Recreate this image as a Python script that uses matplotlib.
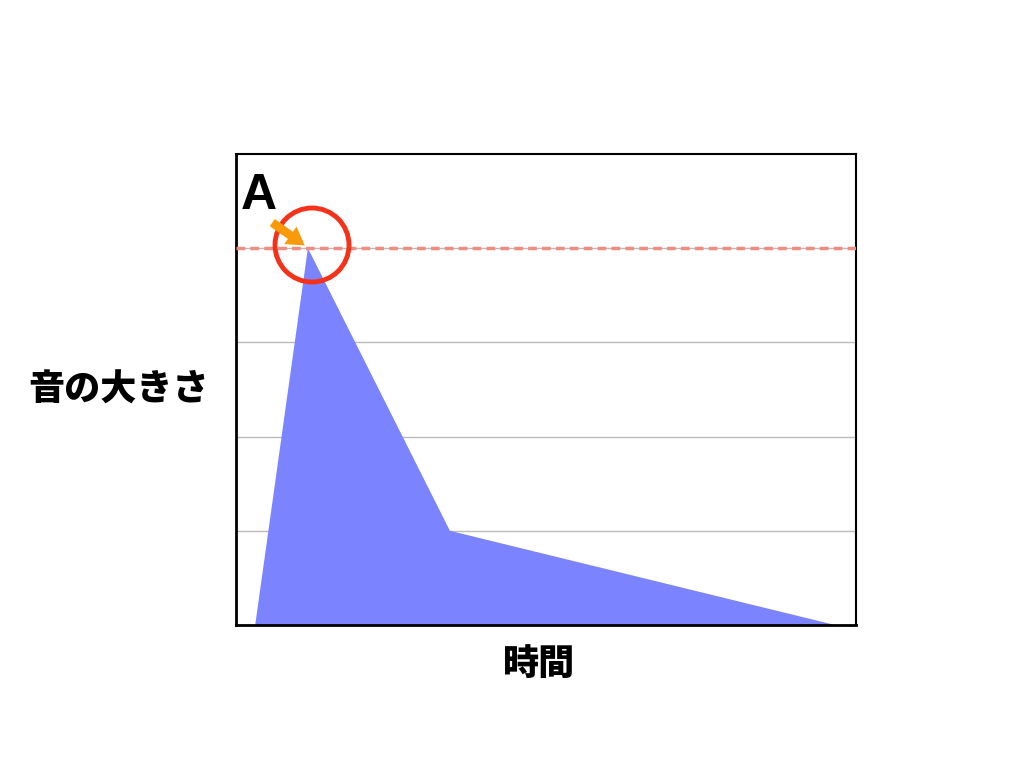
import matplotlib.pyplot as plt
from matplotlib.patches import Ellipse, FancyArrowPatch

plt.rcParams['font.family'] = ['Noto Sans CJK JP', 'DejaVu Sans']

# envelope of the sound
t = [3.1, 11.6, 34.5, 96.6]
level = [0, 4.0, 1.0, 0]
peak_level = 4.0
grid_levels = [1, 2, 3, 4]

fig = plt.figure(figsize=(10.24, 7.68), dpi=100)
ax = fig.add_axes([236/1024, 1-625/768, 620/1024, 471/768])
ax.set_xlim(0, 100)
ax.set_ylim(0, 5)

for g in grid_levels:
    ax.axhline(g, color='#bbbbbb', lw=1, zorder=1)
ax.fill(t, level, color='#7b83ff', lw=0, zorder=2)
ax.axhline(peak_level, color='#f08c80', lw=2.5, ls=(0, (2.5, 1.5)), zorder=3)

ax.set_xticks([])
ax.set_yticks([])
for s in ax.spines.values():
    s.set_linewidth(2)
    s.set_color('black')
ax.spines['top'].set_linewidth(1.5)
ax.spines['right'].set_linewidth(1.5)

# circle and arrow pointing at peak
circ = Ellipse((312/1024, 1-245/768), 74/1024, 74/768, transform=fig.transFigure,
               fill=False, ec='#f5311a', lw=3.5, zorder=5)
fig.patches.append(circ)
fig.add_artist(FancyArrowPatch(
    (270/1024, 1-221/768), (307/1024, 1-247/768), transform=fig.transFigure,
    arrowstyle='simple,head_width=2.2,head_length=1.8,tail_width=0.9',
    mutation_scale=7, color='#f99a0b', lw=0, zorder=6))

fig.text(259/1024, 1-196/768, 'A', fontsize=36, fontweight='bold',
         family=['Liberation Sans', 'DejaVu Sans'], ha='center', va='center')
fig.text(119/1024, 1-390/768, '音の大きさ', fontsize=26, fontweight='heavy',
         ha='center', va='center')
fig.text(539/1024, 1-664/768, '時間', fontsize=26, fontweight='heavy',
         ha='center', va='center')

fig.savefig('out.png', dpi=100)
